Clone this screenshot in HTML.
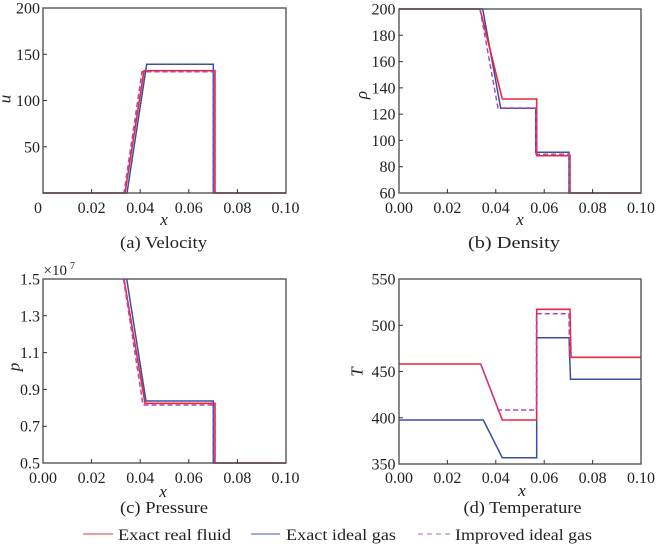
<!DOCTYPE html>
<html><head><meta charset="utf-8"><style>
html,body{margin:0;padding:0;background:#fff;}
svg{display:block;font-family:"Liberation Serif",serif;}
</style></head><body>
<svg width="659" height="547" viewBox="0 0 659 547" xmlns="http://www.w3.org/2000/svg">
<rect width="659" height="547" fill="#fff"/>
<g fill="none" stroke-linejoin="miter">
<!-- Panel (a) -->
<polyline points="43,193 127,193 146.7,64.3 213.3,64.3 213.3,193 286,193" stroke="#3a4fa0" stroke-width="1.5"/>
<polyline points="43,193 125,193 144,70.7 215,70.7 215,193 286,193" stroke="#e8283c" stroke-width="1.6"/>
<polyline points="43,193 124,193 142,71.8 214,71.8 214,193" stroke="#b048b8" stroke-width="1.5" stroke-dasharray="5,3"/>
<!-- Panel (b) -->
<polyline points="399,9 482.7,9 500.7,108.3 535.7,108.3 535.7,152.3 569,152.3 569,193 641,193" stroke="#3a4fa0" stroke-width="1.5"/>
<polyline points="399,9 480,9 502.3,99 536.7,99 536.7,155.7 570,155.7 570,193 641,193" stroke="#e8283c" stroke-width="1.6"/>
<polyline points="480,9 498,108 536,108 536,154.3 569.5,154.3 569.5,193" stroke="#b048b8" stroke-width="1.5" stroke-dasharray="5,3"/>
<!-- Panel (c) -->
<polyline points="126.7,279 146,401 213.3,401 213.3,463 286,463" stroke="#3a4fa0" stroke-width="1.5"/>
<polyline points="124,279 145,403.3 215,403.3 215,463 286,463" stroke="#e8283c" stroke-width="1.6"/>
<polyline points="123.5,279 143,405 214,405 214,463" stroke="#b048b8" stroke-width="1.5" stroke-dasharray="5,3"/>
<!-- Panel (d) -->
<polyline points="399,420 483.3,420 502.3,457.7 536.7,457.7 536.7,337.7 569,337.7 570.5,379.3 641,379.3" stroke="#3a4fa0" stroke-width="1.5"/>
<polyline points="399,364 480.7,364 502.3,420 536.7,420 536.7,309.3 570,309.3 571,357.3 641,357.3" stroke="#e8283c" stroke-width="1.6"/>
<polyline points="480.7,364 498.3,410 536.5,410 536.5,313.7 569,313.7 569.5,357.3" stroke="#b048b8" stroke-width="1.5" stroke-dasharray="5,3"/>
</g>
<!-- Frames -->
<g fill="none" stroke="#555" stroke-width="1.4">
<rect x="43" y="8" width="243" height="185"/>
<rect x="399" y="9" width="242" height="184"/>
<rect x="43" y="279" width="243" height="184"/>
<rect x="399" y="279" width="242" height="185"/>
</g>
<!-- Ticks -->
<g stroke="#333" stroke-width="1">
<path d="M91.6,193v-4M140.2,193v-4M188.8,193v-4M237.4,193v-4M43,54.25h4M43,100.5h4M43,146.75h4"/>
<path d="M447.4,193v-4M495.8,193v-4M544.2,193v-4M592.6,193v-4M399,35.3h4M399,61.6h4M399,87.9h4M399,114.1h4M399,140.4h4M399,166.7h4"/>
<path d="M91.6,463v-4M140.2,463v-4M188.8,463v-4M237.4,463v-4M43,315.8h4M43,352.6h4M43,389.4h4M43,426.2h4"/>
<path d="M447.4,464v-4M495.8,464v-4M544.2,464v-4M592.6,464v-4M399,325.25h4M399,371.5h4M399,417.75h4"/>
</g>
<g font-size="16" fill="#222">
<!-- (a) labels -->
<g text-anchor="end">
<text x="40" y="13.5">200</text><text x="40" y="59.8">150</text><text x="40" y="106">100</text><text x="40" y="152.3">50</text>
</g>
<g text-anchor="middle">
<text x="38" y="213">0</text><text x="91.6" y="213">0.02</text><text x="140.2" y="213">0.04</text><text x="188.8" y="213">0.06</text><text x="237.4" y="213">0.08</text><text x="285.5" y="213">0.10</text>
</g>
<!-- (b) labels -->
<g text-anchor="end">
<text x="395.5" y="14.5">200</text><text x="395.5" y="40.8">180</text><text x="395.5" y="67.1">160</text><text x="395.5" y="93.4">140</text><text x="395.5" y="119.6">120</text><text x="395.5" y="145.9">100</text><text x="395.5" y="172.2">80</text><text x="395.5" y="198.5">60</text>
</g>
<g text-anchor="middle">
<text x="399" y="213">0.00</text><text x="447.4" y="213">0.02</text><text x="495.8" y="213">0.04</text><text x="544.2" y="213">0.06</text><text x="592.6" y="213">0.08</text><text x="641" y="213">0.10</text>
</g>
<!-- (c) labels -->
<g text-anchor="end">
<text x="40" y="284.5">1.5</text><text x="40" y="321.3">1.3</text><text x="40" y="358.1">1.1</text><text x="40" y="394.9">0.9</text><text x="40" y="431.7">0.7</text><text x="40" y="468.5">0.5</text>
</g>
<text x="43.5" y="275" font-size="15">×10</text><text x="70" y="269" font-size="10">7</text>
<g text-anchor="middle">
<text x="43" y="483">0.00</text><text x="91.6" y="483">0.02</text><text x="140.2" y="483">0.04</text><text x="188.8" y="483">0.06</text><text x="237.4" y="483">0.08</text><text x="285.5" y="483">0.10</text>
</g>
<!-- (d) labels -->
<g text-anchor="end">
<text x="395.5" y="284.5">550</text><text x="395.5" y="330.8">500</text><text x="395.5" y="377">450</text><text x="395.5" y="423.3">400</text><text x="395.5" y="469.5">350</text>
</g>
<g text-anchor="middle">
<text x="399" y="483">0.00</text><text x="447.4" y="483">0.02</text><text x="495.8" y="483">0.04</text><text x="544.2" y="483">0.06</text><text x="592.6" y="483">0.08</text><text x="641" y="483">0.10</text>
</g>
<!-- axis letters -->
<g font-style="italic" font-size="17" text-anchor="middle">
<text x="164" y="225">x</text><text x="520" y="225">x</text><text x="163" y="497">x</text><text x="522" y="496">x</text>
<text x="5" y="99" transform="rotate(-90 5 99)" dominant-baseline="central">u</text>
<text x="361.5" y="95" transform="rotate(-90 361.5 95)" dominant-baseline="central">ρ</text>
<text x="14" y="367" transform="rotate(-90 14 367)" dominant-baseline="central">p</text>
<text x="357" y="372" transform="rotate(-90 357 372)" dominant-baseline="central">T</text>
</g>
<!-- captions -->
<g font-size="17" text-anchor="middle">
<text x="163.5" y="248" textLength="87" lengthAdjust="spacingAndGlyphs">(a) Velocity</text>
<text x="514" y="248" textLength="92" lengthAdjust="spacingAndGlyphs">(b) Density</text>
<text x="164" y="513" textLength="88" lengthAdjust="spacingAndGlyphs">(c) Pressure</text>
<text x="522.5" y="513" textLength="118" lengthAdjust="spacingAndGlyphs">(d) Temperature</text>
</g>
<!-- legend -->
<line x1="83" y1="534" x2="113" y2="534" stroke="#e87a84" stroke-width="1.6"/>
<text x="118" y="540" textLength="113" lengthAdjust="spacingAndGlyphs">Exact real fluid</text>
<line x1="251" y1="534" x2="280" y2="534" stroke="#8090c8" stroke-width="1.6"/>
<text x="286" y="540" textLength="110" lengthAdjust="spacingAndGlyphs">Exact ideal gas</text>
<line x1="418" y1="534" x2="450" y2="534" stroke="#c898d0" stroke-width="1.6" stroke-dasharray="5,4"/>
<text x="455" y="540" textLength="137" lengthAdjust="spacingAndGlyphs">Improved ideal gas</text>
</g>
</svg>
</body></html>
